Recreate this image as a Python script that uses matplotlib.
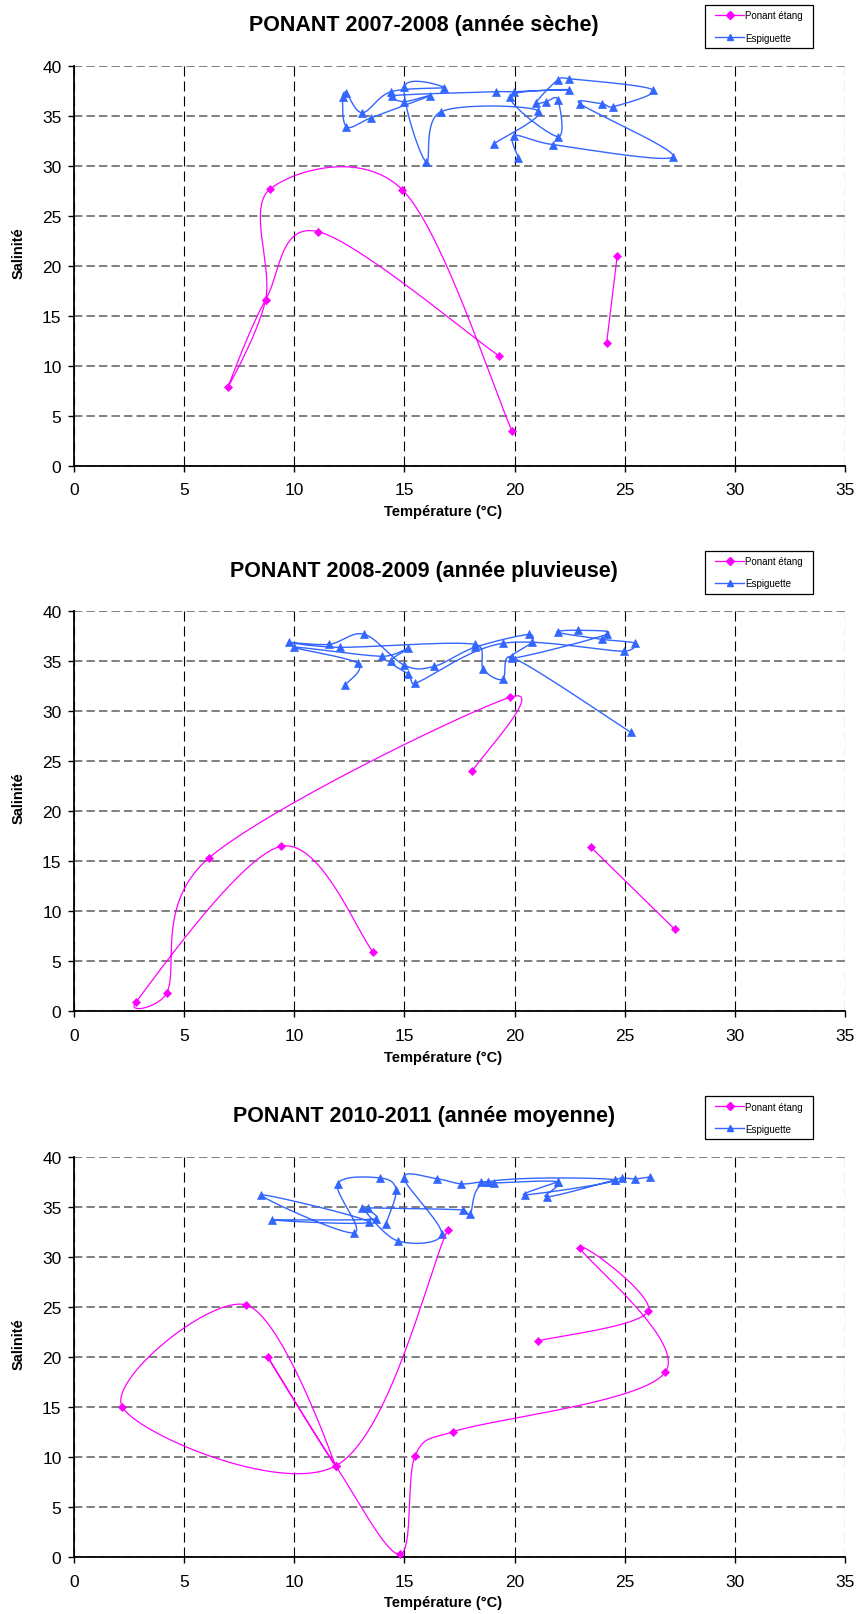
import numpy as np
import matplotlib
matplotlib.use("Agg")
import matplotlib.pyplot as plt
from matplotlib import font_manager
from matplotlib.lines import Line2D
from matplotlib.patches import Rectangle

# ---------------- data ----------------
TITLES = ["PONANT 2007-2008 (année sèche)",
          "PONANT 2008-2009 (année pluvieuse)",
          "PONANT 2010-2011 (année moyenne)"]
SERIES_NAMES = ["Ponant étang", "Espiguette"]
X_LABEL = "Température (°C)"
Y_LABEL = "Salinité"
X_TICKS = [0, 5, 10, 15, 20, 25, 30, 35]
Y_TICKS = [0, 5, 10, 15, 20, 25, 30, 35, 40]

nan = float("nan")

# 2007-2008
T_ETANG_0708 = [19.28, 11.09, 8.70, 7.0, 8.70, 8.90, 14.9, 19.88, nan, 24.18, 24.66]
S_ETANG_0708 = [11.0, 23.4, 16.6, 7.9, 16.6, 27.67, 27.6, 3.5, nan, 12.3, 21.0]
T_ESPI_0708 = [19.07, 21.08, 16.66, 15.98, 15.0, 16.8, 14.39, 13.09, 12.35, 12.19,
               12.37, 13.5, 16.16, 14.98, 14.43, 19.16, 19.97, 22.45, 19.79, 21.97,
               21.97, 21.43, 20.97, 21.97, 22.45, 26.27, 24.48, 23.95, 22.97, 27.2,
               21.76, 19.97, 20.17]
S_ESPI_0708 = [32.2, 35.5, 35.4, 30.4, 37.9, 37.8, 37.4, 35.3, 37.3, 36.9,
               33.9, 34.8, 37.0, 36.4, 37.0, 37.4, 37.4, 37.6, 36.9, 32.9,
               36.6, 36.4, 36.3, 38.6, 38.7, 37.6, 35.9, 36.2, 36.2, 30.9,
               32.1, 33.0, 30.8]

# 2008-2009
T_ETANG_0809 = [13.59, 9.40, 2.81, 4.21, 6.11, 19.79, 18.08, nan, 23.47, 27.27]
S_ETANG_0809 = [5.9, 16.5, 0.92, 1.83, 15.3, 31.4, 24.0, nan, 16.4, 8.2]
T_ESPI_0809 = [12.3, 12.88, 9.99, 13.99, 15.18, 14.39, 15.18, 15.48, 19.46, 24.98,
               25.47, 23.95, 21.95, 22.86, 24.18, 19.9, 20.78, 20.67, 18.2, 16.36,
               15.0, 13.18, 11.59, 9.77, 12.07, 18.2, 18.58, 19.46, 19.88, 25.27]
S_ESPI_0809 = [32.6, 34.8, 36.4, 35.5, 36.3, 35.0, 33.7, 32.8, 36.8, 36.0,
               36.8, 37.2, 37.9, 38.1, 37.7, 35.3, 36.9, 37.7, 36.4, 34.5,
               34.6, 37.7, 36.7, 36.9, 36.4, 36.7, 34.2, 33.2, 35.4, 27.9]

# 2010-2011
T_ETANG_1011 = [21.08, 26.07, 22.97, 26.85, 17.19, 15.48, 14.8, 11.88, 8.79, 11.88,
                7.81, 2.19, 11.88, 16.96]
S_ETANG_1011 = [21.6, 24.6, 30.9, 18.5, 12.5, 10.1, 0.26, 9.1, 20.0, 9.1,
                25.2, 15.0, 9.1, 32.7]
T_ESPI_1011 = [14.16, 14.62, 13.89, 11.97, 12.7, 8.49, 13.38, 8.99, 13.69, 13.09,
               14.69, 16.69, 14.98, 16.49, 17.57, 18.46, 18.78, 19.08, 21.96, 21.46,
               24.57, 24.88, 25.47, 26.15, nan, 13.36, 17.67, 17.98, 18.78, 24.57,
               20.47, 21.96]
S_ESPI_1011 = [33.3, 36.7, 37.9, 37.3, 32.4, 36.2, 33.5, 33.7, 33.8, 34.9,
               31.6, 32.3, 37.9, 37.8, 37.3, 37.5, 37.5, 37.4, 37.5, 36.0,
               37.7, 37.9, 37.8, 38.0, nan, 34.9, 34.7, 34.3, 37.5, 37.7,
               36.2, 37.5]

PANELS = [
    (TITLES[0], T_ETANG_0708, S_ETANG_0708, T_ESPI_0708, S_ESPI_0708),
    (TITLES[1], T_ETANG_0809, S_ETANG_0809, T_ESPI_0809, S_ESPI_0809),
    (TITLES[2], T_ETANG_1011, S_ETANG_1011, T_ESPI_1011, S_ESPI_1011),
]

# ---------------- style ----------------
names = {f.name for f in font_manager.fontManager.ttflist}
FONT = "Liberation Sans" if "Liberation Sans" in names else "DejaVu Sans"
plt.rcParams["font.family"] = [FONT, "DejaVu Sans"]

MAGENTA = "#FF00FF"
BLUE = "#3366FF"

W, H = 856, 1615
OFF = 545.6


def excel_smooth(ax, xs, ys, n=40):
    """Excel-like smoothed line: Bezier segments computed in display space."""
    xs = np.asarray(xs, float)
    ys = np.asarray(ys, float)
    disp = ax.transData.transform(np.column_stack([np.nan_to_num(xs), np.nan_to_num(ys)]))
    valid = ~(np.isnan(xs) | np.isnan(ys))
    segs, cur = [], []
    for i in range(len(xs)):
        if valid[i]:
            cur.append(disp[i])
        else:
            if cur:
                segs.append(np.array(cur))
            cur = []
    if cur:
        segs.append(np.array(cur))
    inv = ax.transData.inverted()
    ox, oy = [], []
    for seg in segs:
        m = len(seg)
        if m < 2:
            continue
        curve = [seg[0]]
        for i in range(m - 1):
            p0 = seg[i - 1] if i > 0 else seg[i]
            p1 = seg[i]
            p2 = seg[i + 1]
            p3 = seg[i + 2] if i + 2 < m else seg[i + 1]
            d = np.linalg.norm(p2 - p1)
            v1 = (p2 - p0) / 6.0
            v2 = (p3 - p1) / 6.0
            for v in (v1, v2):
                L = np.linalg.norm(v)
                if L > d / 2 and L > 0:
                    v *= (d / 2) / L
            c1 = p1 + v1
            c2 = p2 - v2
            t = np.linspace(0, 1, n)[1:, None]
            b = ((1 - t) ** 3) * p1 + 3 * ((1 - t) ** 2) * t * c1 + 3 * (1 - t) * t ** 2 * c2 + t ** 3 * p2
            curve.extend(list(b))
        curve = inv.transform(np.array(curve))
        ox.extend(curve[:, 0].tolist() + [nan])
        oy.extend(curve[:, 1].tolist() + [nan])
    return ox, oy


fig = plt.figure(figsize=(W / 100, H / 100), dpi=100)

for k, (title, te, se, tb, sb) in enumerate(PANELS):
    off = k * OFF
    ax = fig.add_axes([74 / W, 1 - (466.7 + off) / H, (845 - 74) / W, 400 / H])
    ax.set_xlim(0, 35)
    ax.set_ylim(0, 40)
    ax.set_xticks(X_TICKS)
    ax.set_yticks(Y_TICKS)
    ax.set_axisbelow(True)
    ax.xaxis.grid(True, color="black", lw=0.8, ls=(0, (9, 4.5)))
    ax.yaxis.grid(True, color="#6a6a6a", lw=1.2, ls=(0, (5, 2.5)))
    for sp in ("top", "right"):
        ax.spines[sp].set_visible(False)
    for sp in ("left", "bottom"):
        ax.spines[sp].set_color("black")
        ax.spines[sp].set_linewidth(1.3)
    ax.tick_params(axis="both", direction="out", length=4, width=1, color="black",
                   labelsize=12.5, labelcolor="black")
    ax.tick_params(axis="x", pad=8)
    ax.tick_params(axis="y", pad=5)

    # smoothed lines
    lx, ly = excel_smooth(ax, tb, sb)
    ax.plot(lx, ly, color=BLUE, lw=1.0, zorder=3, clip_on=False)
    ax.plot(tb, sb, ls="none", marker="^", ms=5.4, color=BLUE, mec=BLUE, mew=0.5,
            zorder=4, clip_on=False)
    lx, ly = excel_smooth(ax, te, se)
    ax.plot(lx, ly, color=MAGENTA, lw=0.9, zorder=5, clip_on=False)
    ax.plot(te, se, ls="none", marker="D", ms=3.6, color=MAGENTA, mec=MAGENTA, mew=0.5,
            zorder=6, clip_on=False)

    # title and labels
    fig.text(424 / W, 1 - (31 + off) / H, title, ha="center", va="baseline",
             fontsize=15.5, fontweight="bold")
    fig.text(443 / W, 1 - (516 + off) / H, X_LABEL, ha="center", va="baseline",
             fontsize=10.5, fontweight="bold")
    fig.text(19 / W, 1 - (253 + off) / H, Y_LABEL, ha="center", va="center",
             rotation=90, fontsize=10.5, fontweight="bold")

    # legend
    fig.patches.append(Rectangle((705 / W, 1 - (49 + off) / H), 108 / W, 43 / H,
                                 transform=fig.transFigure, fill=True, facecolor="white",
                                 edgecolor="black", lw=0.9, zorder=10))
    handles = [Line2D([], [], color=MAGENTA, lw=0.9, marker="D", ms=3.6, mec=MAGENTA),
               Line2D([], [], color=BLUE, lw=1.0, marker="^", ms=5.0, mec=BLUE)]
    leg = fig.legend(handles, SERIES_NAMES, loc="center left",
                     bbox_to_anchor=(715 / W, 1 - (27.5 + off) / H),
                     bbox_transform=fig.transFigure, frameon=False, fontsize=7,
                     handlelength=3.0, handletextpad=0.1, borderpad=0, borderaxespad=0,
                     labelspacing=1.25, numpoints=1)
    leg.set_zorder(11)

fig.savefig("out.png", dpi=100)
